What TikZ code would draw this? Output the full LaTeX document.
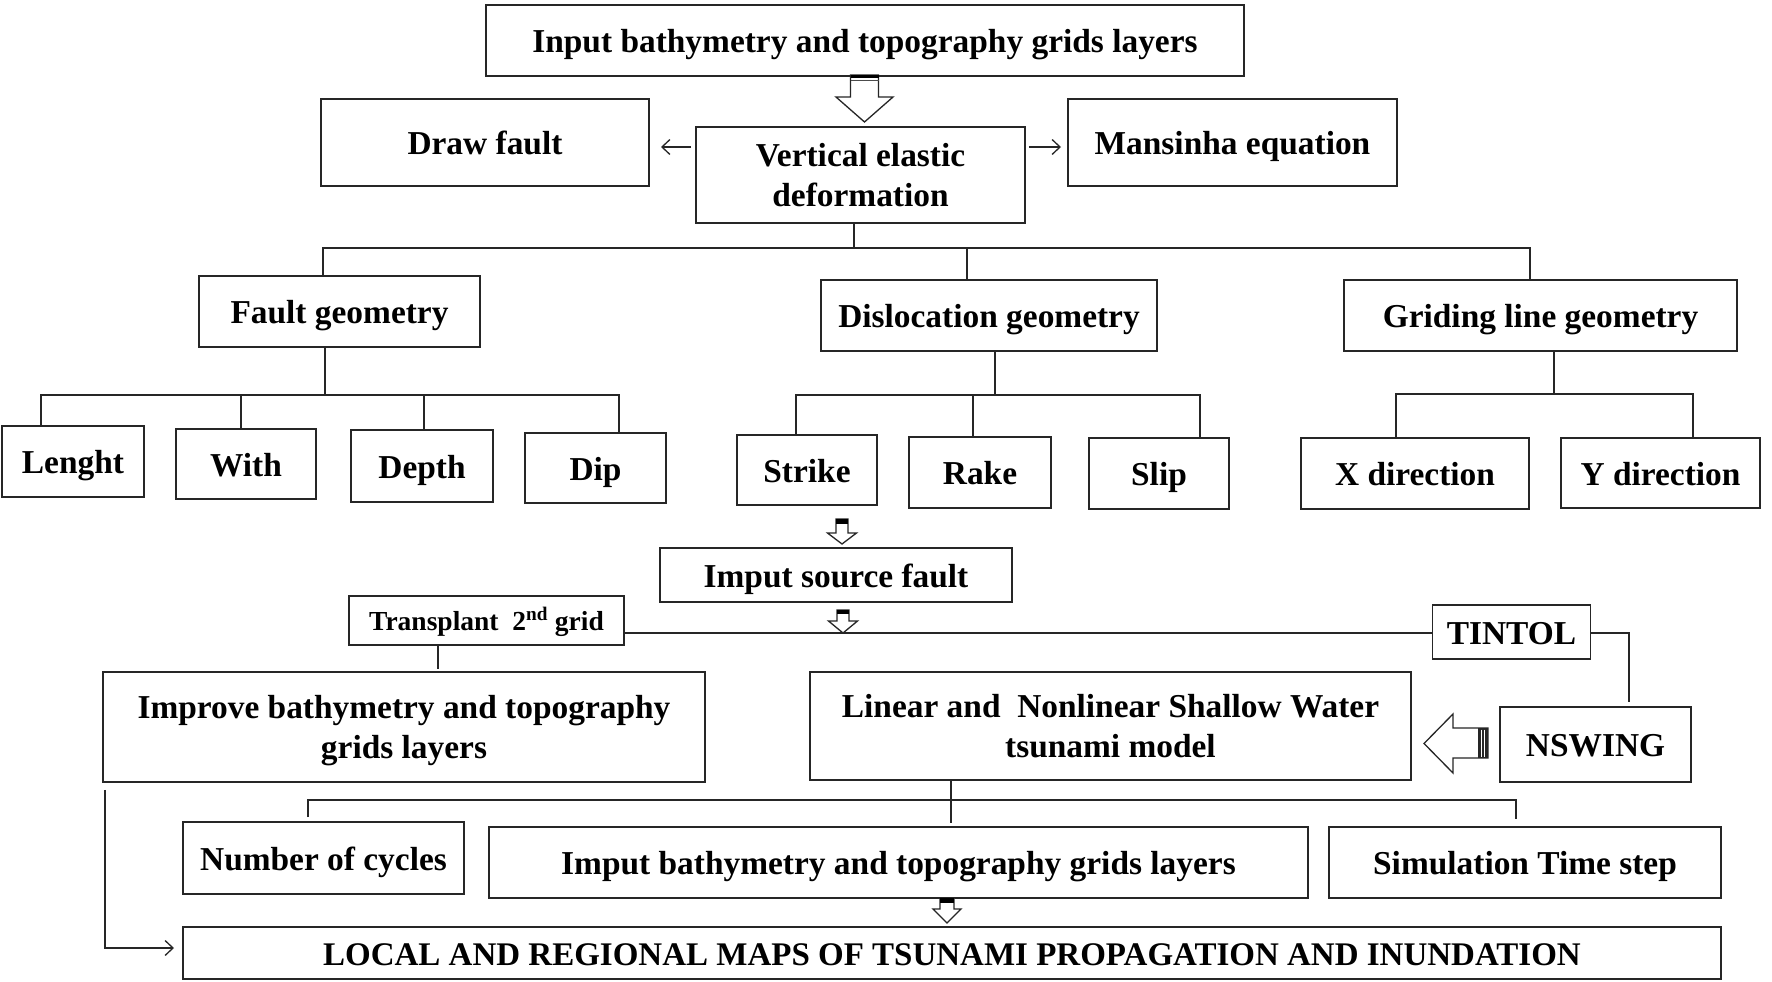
\documentclass[tikz,border=0pt]{standalone}
\usepackage{fontspec}
\setmainfont{Liberation Serif}
\usetikzlibrary{arrows.meta,calc}
\tikzset{
  x=1pt, y=-1pt,
  box/.style={draw=black!85, line width=1.6pt, inner sep=0pt, align=center,
    font=\fontsize{33.4}{40}\selectfont\bfseries, text height=24pt, text depth=0pt},
  twoline/.style={text height=63pt, text depth=0pt},
  conn/.style={draw=black!85, line width=1.4pt},
  thinarr/.style={conn, -{Straight Barb[length=8pt,width=15pt,line width=1.3pt]}},
  blk/.style={draw=black!85, line width=1.3pt, fill=white, line join=miter},
}
\newcommand\mybox[7][]{\node[box, minimum width=#5pt, minimum height=#6pt, #1] (#2) at (#3,#4) {#7};}
% x y0 yhead ytip shaftw headw band
\newcommand\blkdown[7]{%
  \draw[blk] ({#1-#5/2},#2) -- ({#1-#5/2},#3) -- ({#1-#6/2},#3) -- (#1,#4) -- ({#1+#6/2},#3) -- ({#1+#5/2},#3) -- ({#1+#5/2},#2) -- cycle;
  \fill[black] ({#1-#5/2},#2) rectangle ({#1+#5/2},{#2+#7});
}
\begin{document}
\begin{tikzpicture}
\useasboundingbox (0,0) rectangle (1772,982);
\fill[white] (0,0) rectangle (1772,982);

\mybox{top}{865}{40.5}{758}{71}{Input bathymetry and topography grids layers}
\mybox{drawf}{485}{142.5}{328}{87}{Draw fault}
\mybox[twoline]{vert}{860.5}{175}{329}{96}{Vertical elastic\\deformation}
\mybox{mans}{1232.5}{142.5}{329}{87}{Mansinha equation}
\mybox{faultg}{339.5}{311.5}{281}{71}{Fault geometry}
\mybox{disl}{989}{315.5}{336}{71}{Dislocation geometry}
\mybox{grid}{1540.5}{315.5}{393}{71}{Griding line geometry}
\mybox{lenght}{73}{461.5}{142}{71}{Lenght}
\mybox{with}{246}{464}{140}{70}{With}
\mybox{depth}{422}{466}{142}{72}{Depth}
\mybox{dip}{595.5}{468}{141}{70}{Dip}
\mybox{strike}{807}{470}{140}{70}{Strike}
\mybox{rake}{980}{472.5}{142}{71}{Rake}
\mybox{slip}{1159}{473.5}{140}{71}{Slip}
\mybox{xdir}{1415}{473.5}{228}{71}{X direction}
\mybox{ydir}{1660.5}{473}{199}{70}{Y direction}
\mybox{source}{836}{575}{352}{54}{Imput source fault}
\mybox[{font=\fontsize{27.5}{32}\selectfont\bfseries, text height=19pt}]{transplant}{486.5}{620.5}{275}{49}{Transplant\ \ 2\textsuperscript{nd} grid}
\mybox{tintol}{1511.5}{632}{158}{54}{TINTOL}
\mybox[twoline]{improve}{404}{727}{602}{110}{Improve bathymetry and topography\\grids layers}
\mybox[twoline]{linear}{1110.5}{726}{601}{108}{Linear and\ \ Nonlinear Shallow Water\\tsunami model}
\mybox{nswing}{1595.5}{744.5}{191}{75}{NSWING}
\mybox{cycles}{323.5}{858}{281}{72}{Number of cycles}
\mybox{imput}{898.5}{862.5}{819}{71}{Imput bathymetry and topography grids layers}
\mybox{sim}{1525}{862.5}{392}{71}{Simulation Time step}
\mybox[{font=\fontsize{33}{40}\selectfont\bfseries}]{local}{952}{953}{1538}{52}{LOCAL AND REGIONAL MAPS OF TSUNAMI PROPAGATION AND INUNDATION}

% block arrows
\blkdown{864.5}{75}{97}{122}{28}{57}{3.5}
\draw[black!70, line width=0.8pt] (850.5,80.5) -- (878.5,80.5);
\blkdown{842}{519}{533}{544}{12}{29}{5}
\blkdown{843}{610}{621}{633}{12}{29}{4}
\blkdown{947}{898}{909}{923}{14}{28}{5}

% left block arrow NSWING -> linear
\draw[blk] (1488,728) -- (1453,728) -- (1453,714) -- (1424,743.5) -- (1453,773) -- (1453,758) -- (1488,758) -- cycle;
\fill[black!85] (1478,728) rectangle (1488,758);
\draw[white, line width=0.9pt] (1481.5,729.5) -- (1481.5,756.5) (1484.8,729.5) -- (1484.8,756.5);

% side arrows
\draw[thinarr] (vert.west |- 0,147) ++(-4,0) -- (661,147);
\draw[thinarr] (vert.east |- 0,147) ++(3,0) -- (1061,147);

% tree from vertical elastic
\draw[conn] (vert.south -| 854,0) -- (854,248);
\draw[conn] (faultg.north -| 323,0) |- (854,248) -| (grid.north -| 1530,0);
\draw[conn] (967,248) -- (disl.north -| 967,0);

% fault geometry children
\draw[conn] (faultg.south -| 325,0) -- (325,395);
\draw[conn] (lenght.north -| 41,0) |- (325,395) -| (dip.north -| 619,0);
\draw[conn] (241,395) -- (with.north -| 241,0);
\draw[conn] (424,395) -- (depth.north -| 424,0);

% dislocation children
\draw[conn] (disl.south -| 995,0) -- (995,395);
\draw[conn] (strike.north -| 796,0) |- (995,395) -| (slip.north -| 1200,0);
\draw[conn] (973,395) -- (rake.north -| 973,0);

% griding children
\draw[conn] (grid.south -| 1554,0) -- (1554,394);
\draw[conn] (xdir.north -| 1396,0) |- (1554,394) -| (ydir.north -| 1693,0);

% transplant / tintol line
\draw[conn] (transplant.east |- 0,633) -- (tintol.west |- 0,633);
\draw[conn] (tintol.east |- 0,633) -| (1629,702);
\draw[conn] (transplant.south -| 438,0) -- (438,669);

% linear model children
\draw[conn] (linear.south -| 951,0) -- (951,823);
\draw[conn] (cycles.north -| 308,0) ++(0,-4) |- (951,800) -| (1516,819);

% left arrow to local maps
\draw[thinarr] (improve.south -| 105,0) ++(0,7) |- (174,948);
\end{tikzpicture}
\end{document}
